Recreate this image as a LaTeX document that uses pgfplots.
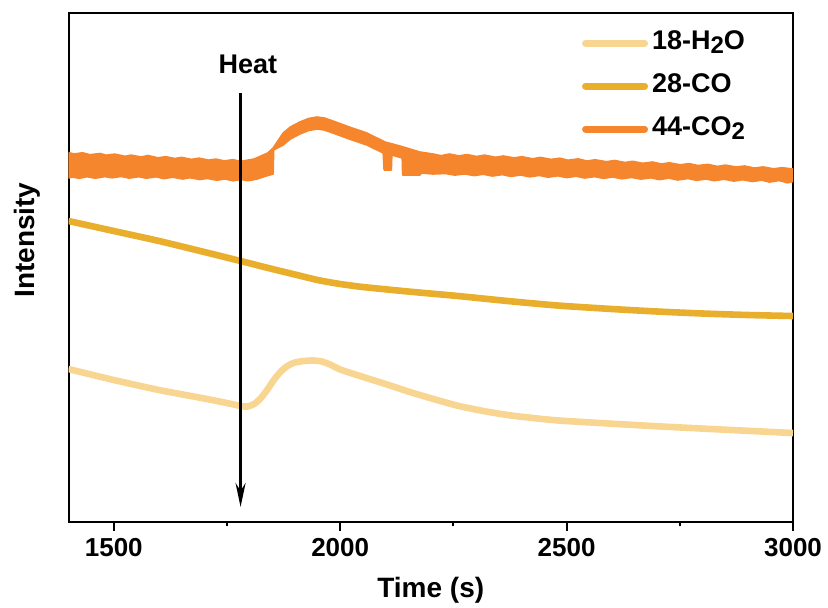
\documentclass[border=0pt]{standalone}
\usepackage{fontspec}
\setmainfont{Liberation Sans}
\usepackage{pgfplots}
\pgfplotsset{compat=1.18}
\usetikzlibrary{arrows.meta}
\definecolor{cH2O}{RGB}{248,214,145}
\definecolor{cCO}{RGB}{233,174,44}
\definecolor{cCOtwo}{RGB}{246,134,45}
\newcommand{\sub}[1]{\raisebox{-0.32ex}{\fontsize{12}{12}\selectfont #1}}
\begin{document}
\begin{tikzpicture}
\begin{axis}[
  scale only axis,
  width=362.25pt, height=254.5pt,
  xmin=1400, xmax=3000, ymin=0, ymax=509,
  axis line style={line width=1pt},
  xtick={1500,2000,2500,3000},
  minor xtick={1750,2250,2750},
  ytick=\empty,
  tick align=outside,
  xtick pos=bottom,
  major tick length=4.5pt,
  minor tick length=2.2pt,
  every tick/.style={line width=1pt, black},
  /pgf/number format/assume math mode=true,
  /pgf/number format/set thousands separator={},
  tick label style={font=\bfseries\fontsize{13}{15}\selectfont},
  xlabel={Time (s)},
  ylabel={Intensity},
  label style={font=\bfseries\fontsize{14}{16}\selectfont},
  xlabel style={at={(axis description cs:0.5,0)}, anchor=center, yshift=-34pt},
  ylabel style={at={(axis description cs:-0.057,0.554)}, anchor=center, rotate=0},
  legend style={at={(rel axis cs:0.70,0.985)}, anchor=north west, draw=none, fill=none,
    font=\bfseries\fontsize{13.5}{15}\selectfont, row sep=3.5pt,
    nodes={inner sep=2pt, text height=10pt, text depth=4pt}},
  legend cell align=left,
  legend image code/.code={\draw[#1, line width=3.5pt, line cap=round] (0pt,0pt) -- (29.5pt,0pt);},
]
% CO2 band (upper edge forward, lower edge backward)
\addplot[fill=cCOtwo, draw=cCOtwo, line width=0.8pt, line join=round, forget plot] coordinates {
(1400,369.5) (1412,368.0) (1431,369.2) (1447,367.3) (1470,368.5) (1483,366.8) (1502,367.9) (1525,365.7)
(1538,366.9) (1561,365.0) (1575,366.5) (1597,364.2) (1615,365.3) (1634,363.5) (1650,364.6) (1672,362.6)
(1688,363.9) (1709,361.9) (1726,362.9) (1744,361.1) (1763,362.3) (1780,360.6) (1810,363) (1840,369) (1852,374)
(1874,389) (1890,395) (1911,400) (1930,403.5) (1949,405) (1965,404) (1984,401) (2020,395) (2059,389)
(2099,380) (2132,376) (2176,370)
(2205,368) (2223,366.3) (2241,368.0) (2262,366.1) (2280,367.4) (2301,365.5) (2319,366.9) (2343,364.7)
(2360,366.0) (2384,364.1) (2401,365.3) (2425,363.2) (2442,364.6) (2466,362.6) (2485,363.8) (2503,361.8)
(2526,363.1) (2545,361.0) (2563,362.2) (2588,360.3) (2606,361.5) (2629,359.5) (2646,360.7) (2668,358.7)
(2690,360.0) (2709,358.0) (2727,359.2) (2751,357.2) (2770,358.4) (2790,356.5) (2812,357.6) (2833,355.6)
(2851,356.9) (2874,355.0) (2893,356.0) (2915,353.9) (2934,355.1) (2957,353.2) (2976,354.3) (3000,353)
(3000,340.5) (2988,339.2) (2969,341.5) (2948,339.9) (2931,341.9) (2910,340.5) (2889,342.3) (2869,340.9)
(2848,342.8) (2826,341.3) (2808,343.0) (2787,341.7) (2768,343.5) (2745,342.0) (2726,343.9) (2705,342.4)
(2686,344.2) (2664,342.9) (2643,344.6) (2622,343.2) (2603,345.0) (2581,343.7) (2562,345.4) (2540,344.0)
(2521,345.8) (2500,344.4) (2481,346.2) (2459,344.8) (2440,346.6) (2418,345.2) (2399,347.0) (2377,345.6)
(2358,347.4) (2336,346.0) (2316,347.8) (2296,346.4) (2275,348.1) (2253,346.9) (2232,348.5) (2205,348)
(2180,349) (2176,347) (2138,347) (2137,364) (2114,367) (2113,352) (2097,352) (2095,369) (2059,377)
(2020,383) (1984,389) (1965,392) (1949,393) (1930,391.5) (1911,388) (1890,383) (1874,377) (1853,372) (1852,348)
(1833,345.5) (1815,342.8) (1797,341.3) (1781,342.6) (1764,341.2) (1745,343.0) (1728,341.8) (1706,343.6)
(1690,342.5) (1668,344.3) (1652,343.0) (1630,344.8) (1611,343.4) (1593,345.2) (1572,343.8) (1555,345.3)
(1534,343.9) (1516,345.6) (1497,344.2) (1480,345.4) (1459,343.8) (1441,345.3) (1423,343.7) (1409,345.0) (1400,344)
} -- cycle;
% CO
\addplot[cCO, line width=3.3pt, smooth, tension=0.4, forget plot] coordinates {
(1400,301) (1500,291) (1600,281) (1700,270) (1780,261) (1850,253) (1900,247.5) (1950,242)
(1980,239.5) (2000,238) (2050,235) (2150,230.5) (2260,226) (2370,221) (2480,216.5) (2600,213)
(2700,210.5) (2800,208.5) (2900,207) (3000,206)
};
% H2O
\addplot[cH2O, line width=3.3pt, smooth, tension=0.4, forget plot] coordinates {
(1400,153) (1500,142) (1600,132) (1700,123.5) (1760,118) (1780,116) (1795,115.5) (1810,118)
(1825,124) (1840,133) (1855,143) (1870,151) (1885,156.5) (1900,159.5) (1920,161) (1940,161.5)
(1960,160.5) (1980,157) (2000,152.5) (2044,146) (2100,138) (2154,130) (2210,122.5) (2262,116)
(2320,110.7) (2373,106.8) (2430,103.8) (2483,101.5) (2600,98.3) (2702,95.7) (2850,92.3) (3000,89)
};
\addlegendimage{cH2O}
\addlegendentry{18-H\sub{2}O}
\addlegendimage{cCO}
\addlegendentry{28-CO}
\addlegendimage{cCOtwo}
\addlegendentry{44-CO\sub{2}}
% Heat arrow
\draw[line width=1.4pt, -{Stealth[length=12pt, width=5pt]}] (axis cs:1780,429) -- (axis cs:1780,15);
\node[anchor=base, font=\bfseries\fontsize{13.5}{15}\selectfont] at (axis cs:1796,449) {Heat};
\end{axis}
\pgfresetboundingbox
\path[use as bounding box] ([shift={(-34.25pt,-42.5pt)}]current axis.south west) rectangle ([shift={(17.5pt,6.5pt)}]current axis.north east);
\end{tikzpicture}
\end{document}
